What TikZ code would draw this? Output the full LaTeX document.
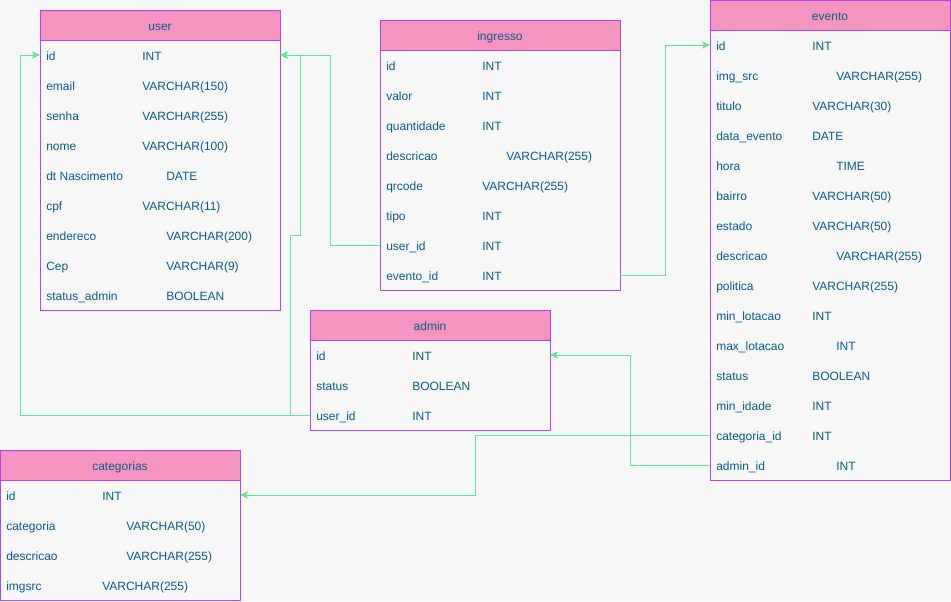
\documentclass[tikz,border=0pt]{standalone}
\usepackage{fontspec}
\setmainfont{Liberation Sans}
\usetikzlibrary{arrows.meta,calc}

\definecolor{bgc}{HTML}{F7F7F7}
\definecolor{hdrfill}{HTML}{F694C1}
\definecolor{framec}{HTML}{AF45ED}
\definecolor{ink}{HTML}{095C86}
\definecolor{linkc}{HTML}{60E696}

\tikzset{
  hdr/.style={draw=framec, fill=hdrfill, line width=0.75pt, minimum width=180pt,
              minimum height=22.5pt, inner sep=0pt, outer sep=0pt},
  tbody/.style={draw=framec, line width=0.75pt, minimum width=180pt, inner sep=0pt, outer sep=0pt},
  rowbox/.style={minimum width=180pt, minimum height=22.5pt, inner sep=0pt, outer sep=0pt},
  txt/.style={text=ink, font=\fontsize{9pt}{11pt}\selectfont, inner sep=0pt, anchor=base west},
  ttl/.style={txt, anchor=base},
  fk/.style={draw=linkc, line width=0.75pt, -{Stealth[length=6pt,width=5.5pt,inset=1.5pt]}},
}

% table frame: name, left x, top y, number of rows, title
\newcommand\ertable[5]{%
  \node[tbody, minimum height=22.5pt*#4, anchor=north west] (#1-body) at (#2,#3+30) {};
  \node[hdr, anchor=north west] (#1) at (#2,#3) {};
  \node[ttl] (#1-title) at (#2+120,#3+20) {#5};
}
% table row: name, left x, row top y, field, type offset, type
\newcommand\erfield[6]{%
  \node[rowbox, anchor=north west] (#1) at (#2,#3) {};
  \node[txt] (#1-n) at (#2+6,#3+20) {#4};
  \node[txt] (#1-t) at (#2+#5,#3+20) {#6};
}

\begin{document}
\begin{tikzpicture}[x=0.75pt,y=-0.75pt]
\useasboundingbox (0,0) rectangle (951,601);
\fill[bgc] (0,0) rectangle (951,601);

% user
\ertable{user}{40}{10}{9}{user}
\erfield{user-id}{40}{40}{id}{102}{INT}
\erfield{user-email}{40}{70}{email}{102}{VARCHAR(150)}
\erfield{user-senha}{40}{100}{senha}{102}{VARCHAR(255)}
\erfield{user-nome}{40}{130}{nome}{102}{VARCHAR(100)}
\erfield{user-dt}{40}{160}{dt Nascimento}{126}{DATE}
\erfield{user-cpf}{40}{190}{cpf}{102}{VARCHAR(11)}
\erfield{user-end}{40}{220}{endereco}{126}{VARCHAR(200)}
\erfield{user-cep}{40}{250}{Cep}{126}{VARCHAR(9)}
\erfield{user-adm}{40}{280}{status\_admin}{126}{BOOLEAN}

% ingresso
\ertable{ing}{380}{20}{8}{ingresso}
\erfield{ing-id}{380}{50}{id}{102}{INT}
\erfield{ing-valor}{380}{80}{valor}{102}{INT}
\erfield{ing-qtd}{380}{110}{quantidade}{102}{INT}
\erfield{ing-desc}{380}{140}{descricao}{126}{VARCHAR(255)}
\erfield{ing-qr}{380}{170}{qrcode}{102}{VARCHAR(255)}
\erfield{ing-tipo}{380}{200}{tipo}{102}{INT}
\erfield{ing-userid}{380}{230}{user\_id}{102}{INT}
\erfield{ing-eventoid}{380}{260}{evento\_id}{102}{INT}

% evento
\ertable{ev}{710}{0}{15}{evento}
\erfield{ev-id}{710}{30}{id}{102}{INT}
\erfield{ev-img}{710}{60}{img\_src}{126}{VARCHAR(255)}
\erfield{ev-titulo}{710}{90}{titulo}{102}{VARCHAR(30)}
\erfield{ev-data}{710}{120}{data\_evento}{102}{DATE}
\erfield{ev-hora}{710}{150}{hora}{126}{TIME}
\erfield{ev-bairro}{710}{180}{bairro}{102}{VARCHAR(50)}
\erfield{ev-estado}{710}{210}{estado}{102}{VARCHAR(50)}
\erfield{ev-desc}{710}{240}{descricao}{126}{VARCHAR(255)}
\erfield{ev-pol}{710}{270}{politica}{102}{VARCHAR(255)}
\erfield{ev-minlot}{710}{300}{min\_lotacao}{102}{INT}
\erfield{ev-maxlot}{710}{330}{max\_lotacao}{126}{INT}
\erfield{ev-status}{710}{360}{status}{102}{BOOLEAN}
\erfield{ev-idade}{710}{390}{min\_idade}{102}{INT}
\erfield{ev-catid}{710}{420}{categoria\_id}{102}{INT}
\erfield{ev-admid}{710}{450}{admin\_id}{126}{INT}

% admin
\ertable{adm}{310}{310}{3}{admin}
\erfield{adm-id}{310}{340}{id}{102}{INT}
\erfield{adm-status}{310}{370}{status}{102}{BOOLEAN}
\erfield{adm-userid}{310}{400}{user\_id}{102}{INT}

% categorias
\ertable{cat}{0}{450}{4}{categorias}
\erfield{cat-id}{0}{480}{id}{102}{INT}
\erfield{cat-cat}{0}{510}{categoria}{126}{VARCHAR(50)}
\erfield{cat-desc}{0}{540}{descricao}{126}{VARCHAR(255)}
\erfield{cat-img}{0}{570}{imgsrc}{102}{VARCHAR(255)}

% foreign keys
\draw[fk] (ing-userid.west) -- ++(-50,0) |- (user-id.east);
\draw[fk] (adm-userid.west) -- ++(-20,0) -- ++(0,-180) -- ++(10,0) |- (user-id.east);
\draw[fk] (adm-userid.west) -- ++(-290,0) |- (user-id.west);
\draw[fk] (ing-eventoid.east) -- ++(45,0) |- (ev-id.west);
\draw[fk] (ev-admid.west) -- ++(-80,0) |- (adm-id.east);
\draw[fk] (ev-catid.west) -- ++(-235,0) |- (cat-id.east);
\end{tikzpicture}
\end{document}
